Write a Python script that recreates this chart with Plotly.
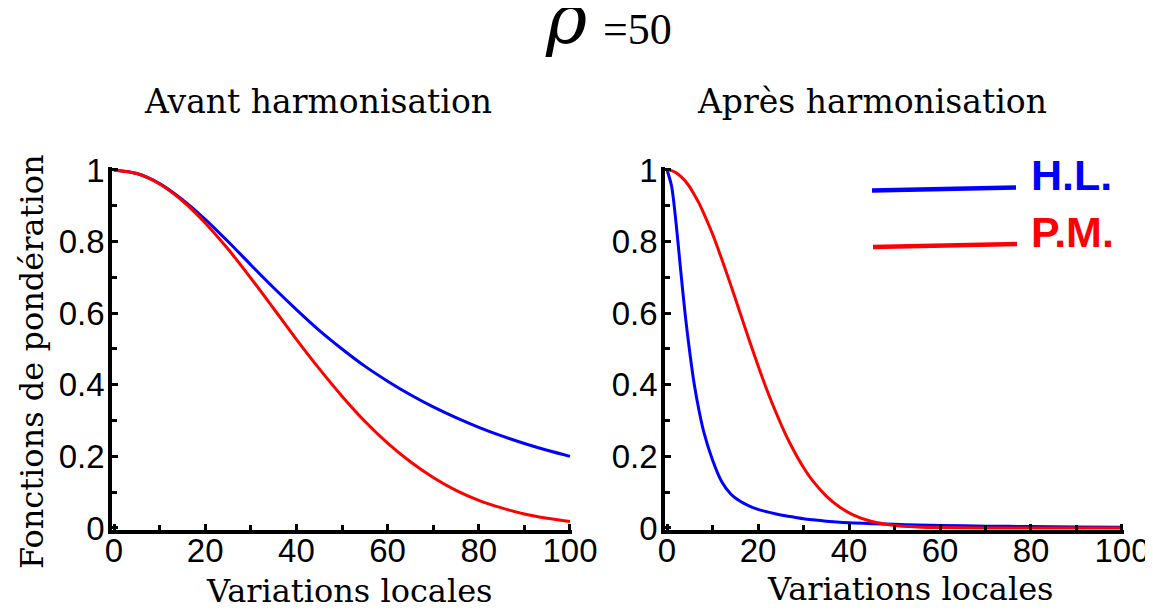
#!/usr/bin/env python
"""Weighting functions before / after harmonisation (rho = 50)."""

from __future__ import annotations

import plotly.graph_objects as go
from plotly.subplots import make_subplots

W, H = 1153, 610
OFF = 8  # default body margin of the page, compensated in paper coords

# left panel: "Avant harmonisation"
x_avant = [0, 5, 10, 15, 20, 25, 30, 35, 40, 45, 50, 55, 60, 65, 70, 75, 80, 85, 90, 95, 100]
hl_avant = [1.0, 0.990, 0.962, 0.917, 0.862, 0.800, 0.735, 0.671, 0.610, 0.552, 0.500,
            0.452, 0.410, 0.372, 0.338, 0.308, 0.281, 0.257, 0.236, 0.217, 0.200]
pm_avant = [1.0, 0.990, 0.961, 0.914, 0.852, 0.779, 0.698, 0.613, 0.527, 0.445, 0.368,
            0.298, 0.237, 0.185, 0.141, 0.105, 0.077, 0.056, 0.039, 0.027, 0.018]

# right panel: "Après harmonisation"
x_apres = [0, 1, 2, 3, 4, 5, 6, 7, 8, 10, 12, 14, 16, 18, 20, 22, 24, 26, 28, 30, 32, 35,
           38, 41, 45, 50, 55, 60, 70, 80, 90, 100]
hl_apres = [1.0, 0.955, 0.85, 0.72, 0.595, 0.49, 0.40, 0.33, 0.272, 0.19, 0.13, 0.095,
            0.075, 0.062, 0.052, 0.045, 0.039, 0.034, 0.030, 0.026, 0.023, 0.019,
            0.016, 0.014, 0.012, 0.010, 0.008, 0.007, 0.005, 0.004, 0.003, 0.002]
pm_apres = [1.0, 0.998, 0.992, 0.982, 0.969, 0.952, 0.931, 0.908, 0.881, 0.821, 0.752,
            0.679, 0.603, 0.527, 0.454, 0.384, 0.321, 0.263, 0.213, 0.169, 0.132, 0.089,
            0.058, 0.036, 0.018, 0.007, 0.003, 0.001, 0.0, 0.0, 0.0, 0.0]

x_ticks = [0, 20, 40, 60, 80, 100]
y_ticks = [0, 0.2, 0.4, 0.6, 0.8, 1]
y_tick_text = ["0", "0.2", "0.4", "0.6", "0.8", "1"]

BLUE = "#0000ff"
RED = "#ff0000"
SERIF = "DejaVu Serif"
SANS = "Liberation Sans"


def px(x: float) -> float:
    return (x - OFF) / W


def py(y: float) -> float:
    return 1 - (y - OFF) / H


def build_figure() -> go.Figure:
    fig = make_subplots(rows=1, cols=2, horizontal_spacing=0.05)
    for col, (xs, hl, pm) in enumerate([(x_avant, hl_avant, pm_avant), (x_apres, hl_apres, pm_apres)], start=1):
        fig.add_trace(go.Scatter(x=xs, y=hl, mode="lines", line=dict(color=BLUE, width=3, shape="spline", smoothing=0.8),
                                 name="H.L.", showlegend=False), row=1, col=col)
        fig.add_trace(go.Scatter(x=xs, y=pm, mode="lines", line=dict(color=RED, width=3, shape="spline", smoothing=0.8),
                                 name="P.M.", showlegend=False), row=1, col=col)

    axis_common = dict(
        showline=True, linewidth=4, linecolor="black", mirror=False,
        ticks="inside", ticklen=6, tickwidth=2.5, tickcolor="black",
        showgrid=False, zeroline=False,
        tickfont=dict(family=SANS, size=33, color="black"),
    )
    fig.update_xaxes(**axis_common, range=[-0.4, 100.4], tickvals=x_ticks, ticklabelstandoff=-12,
                     minor=dict(ticks="inside", ticklen=5, tickwidth=2.5, tickcolor="black", dtick=10, tick0=0))
    fig.update_yaxes(**axis_common, range=[-0.006, 1.008], tickvals=y_ticks, ticktext=y_tick_text,
                     ticklabelstandoff=-3,
                     minor=dict(ticks="inside", ticklen=5, tickwidth=2.5, tickcolor="black", dtick=0.1, tick0=0))
    fig.update_xaxes(domain=[px(112.2), px(571.8)], row=1, col=1)
    fig.update_xaxes(domain=[px(665.2), px(1123.8)], row=1, col=2)
    fig.update_yaxes(domain=[py(530.1), py(167.1)])

    notes = [
        dict(text="<i>ρ</i>", x=px(566), y=py(19), font=dict(family=SERIF, size=70, color="black")),
        dict(text="=50", x=px(637), y=py(29), font=dict(family="Liberation Serif", size=44, color="black")),
        dict(text="Avant harmonisation", x=px(318), y=py(102), font=dict(family=SERIF, size=33, color="black")),
        dict(text="Après harmonisation", x=px(872), y=py(102), font=dict(family=SERIF, size=33, color="black")),
        dict(text="Variations locales", x=px(349), y=py(591), font=dict(family=SERIF, size=32, color="black")),
        dict(text="Variations locales", x=px(910), y=py(589), font=dict(family=SERIF, size=32, color="black")),
        dict(text="Fonctions de pondération", x=px(32), y=py(362), textangle=-90,
             font=dict(family=SERIF, size=32, color="black")),
        dict(text="<b>H.L.</b>", x=px(1029), y=py(175), xanchor="left", font=dict(family=SANS, size=43, color=BLUE)),
        dict(text="<b>P.M.</b>", x=px(1029), y=py(232), xanchor="left", font=dict(family=SANS, size=43, color=RED)),
    ]
    for note in notes:
        note.setdefault("xanchor", "center")
        fig.add_annotation(xref="paper", yref="paper", yanchor="middle", showarrow=False, **note)

    # hand-drawn legend strokes
    fig.add_shape(type="line", xref="paper", yref="paper", x0=px(872), y0=py(190.5), x1=px(1016), y1=py(187.5),
                  line=dict(color=BLUE, width=4.5))
    fig.add_shape(type="line", xref="paper", yref="paper", x0=px(873), y0=py(247), x1=px(1017), y1=py(244),
                  line=dict(color=RED, width=4.5))

    fig.update_layout(
        width=W, height=H,
        margin=dict(l=0, r=0, t=0, b=0, autoexpand=False),
        plot_bgcolor="white", paper_bgcolor="white",
        showlegend=False,
    )
    return fig


def main() -> int:
    fig = build_figure()
    fig.write_html("out.html")
    return 0


if __name__ == "__main__":
    raise SystemExit(main())
